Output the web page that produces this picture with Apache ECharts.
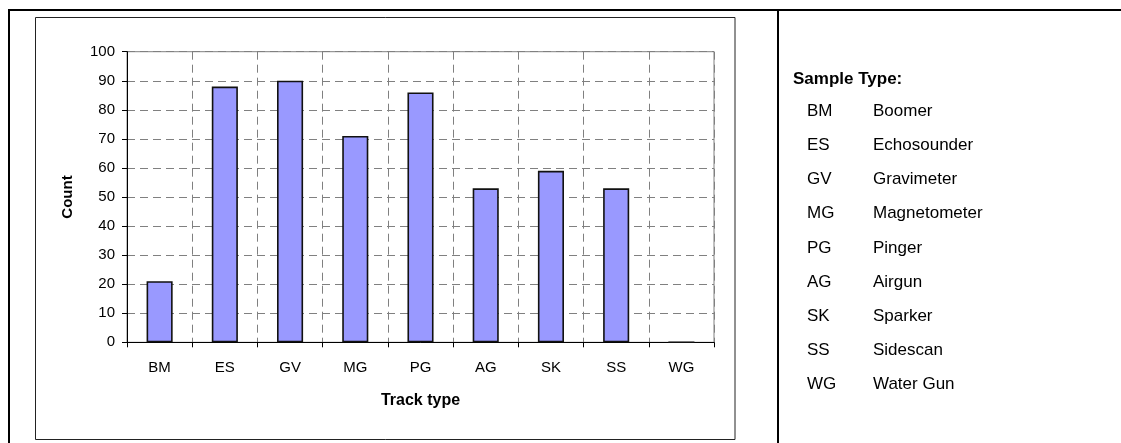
<!DOCTYPE html>
<html>
<head>
<meta charset="utf-8">
<title>Track type counts</title>
<script src="https://cdn.jsdelivr.net/npm/echarts@6/dist/echarts.min.js"></script>
<style>
  html, body { margin: 0; padding: 0; background: #ffffff; }
  #chart { width: 1121px; height: 443px; }
</style>
</head>
<body>
<div id="chart"></div>
<script>
// Track type codes and their record counts
const trackCodes = ['BM', 'ES', 'GV', 'MG', 'PG', 'AG', 'SK', 'SS', 'WG'];
const trackCounts = [21, 88, 90, 71, 86, 53, 59, 53, 0];
// Full names listed in the key beside the chart
const trackNames = ['Boomer', 'Echosounder', 'Gravimeter', 'Magnetometer', 'Pinger',
                    'Airgun', 'Sparker', 'Sidescan', 'Water Gun'];
const keyTitle = 'Sample Type:';

const FONT = 'Arial, "Liberation Sans", sans-serif';

// Key: a title followed by one row per code
const keyElements = [{
  type: 'text', left: 793, top: 71,
  style: { text: keyTitle, font: 'bold 17px ' + FONT, fill: '#000' }
}];
trackCodes.forEach(function (code, i) {
  const y = 103 + i * 34.1;
  keyElements.push({ type: 'text', left: 807, top: y,
    style: { text: code, font: '17px ' + FONT, fill: '#000' } });
  keyElements.push({ type: 'text', left: 873, top: y,
    style: { text: trackNames[i], font: '17px ' + FONT, fill: '#000' } });
});

const chart = echarts.init(document.getElementById('chart'), null, { renderer: 'canvas' });

chart.setOption({
  animation: false,
  backgroundColor: '#ffffff',
  textStyle: { fontFamily: FONT },
  grid: {
    left: 127, top: 51.7, right: 407, bottom: 100.7,
    show: true, borderColor: '#808080', borderWidth: 1, backgroundColor: 'transparent'
  },
  xAxis: {
    type: 'category',
    data: trackCodes,
    name: 'Track type',
    nameLocation: 'middle',
    nameGap: 50,
    nameTextStyle: { fontFamily: FONT, fontSize: 16, fontWeight: 'bold', color: '#000' },
    axisLine: { lineStyle: { color: '#000', width: 1 } },
    axisTick: { show: true, length: 5, lineStyle: { color: '#000' } },
    axisLabel: { fontFamily: FONT, fontSize: 15, color: '#000', margin: 18 },
    splitLine: { show: true, lineStyle: { color: '#808080', type: [8, 5], width: 1 } }
  },
  yAxis: {
    type: 'value',
    min: 0, max: 100, interval: 10,
    name: 'Count',
    nameLocation: 'middle',
    nameGap: 52,
    nameTextStyle: { fontFamily: FONT, fontSize: 15, fontWeight: 'bold', color: '#000' },
    axisLine: { show: true, lineStyle: { color: '#000', width: 1 } },
    axisTick: { show: true, length: 5, lineStyle: { color: '#000' } },
    axisLabel: { fontFamily: FONT, fontSize: 15, color: '#000', margin: 12 },
    splitLine: { show: true, lineStyle: { color: '#808080', type: [8, 5], width: 1 } }
  },
  series: [{
    type: 'bar',
    data: trackCounts,
    barWidth: '40%',
    itemStyle: { color: '#9999FF', borderColor: '#111', borderWidth: 1.6 },
    z: 3
  }],
  graphic: [
    // outer table frame: top rule, left rule and the column divider
    { type: 'line', shape: { x1: 8, y1: 10, x2: 1121, y2: 10 }, style: { stroke: '#000', lineWidth: 2 } },
    { type: 'line', shape: { x1: 9, y1: 9, x2: 9, y2: 443 }, style: { stroke: '#000', lineWidth: 2 } },
    { type: 'line', shape: { x1: 778, y1: 9, x2: 778, y2: 443 }, style: { stroke: '#000', lineWidth: 2 } },
    // chart box
    { type: 'rect', shape: { x: 35.5, y: 17.5, width: 699.5, height: 422 },
      style: { fill: 'none', stroke: '#222', lineWidth: 1 }, z: -1 },
    { type: 'group', children: keyElements }
  ]
});
</script>
</body>
</html>
